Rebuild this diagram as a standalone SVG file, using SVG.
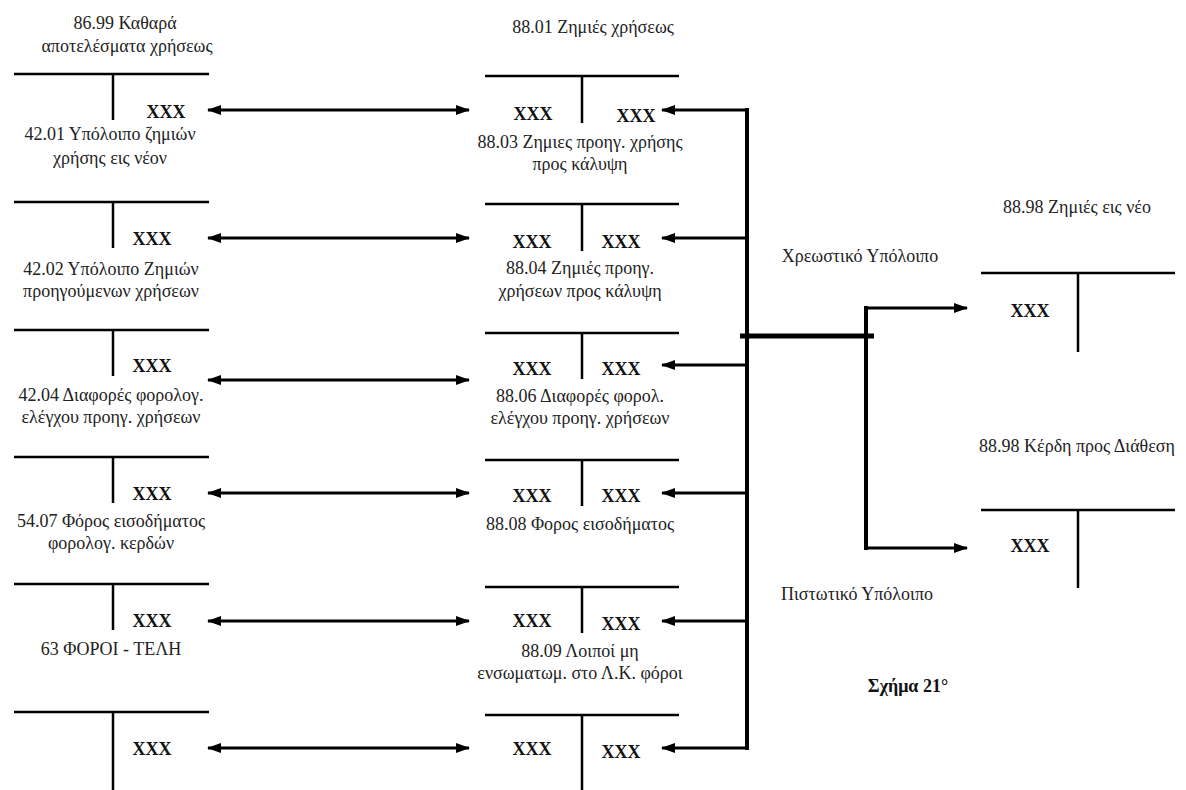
<svg xmlns="http://www.w3.org/2000/svg" width="1186" height="790" viewBox="0 0 1186 790">
<defs>
<marker id="ah" viewBox="0 0 14 10" refX="13" refY="5" markerWidth="14" markerHeight="10" markerUnits="userSpaceOnUse" orient="auto-start-reverse">
<path d="M0,0 L14,5 L0,10 z" fill="#000"/>
</marker>
<style>
.t{stroke:#000;stroke-width:2.5;fill:none}
.lb{font-size:18px;fill:#222;text-anchor:middle}
.x{font-size:18px;font-weight:bold;fill:#111;text-anchor:middle}
.a{stroke:#000;stroke-width:3;fill:none}
.tr{stroke:#000;stroke-width:4;fill:none}
.ti{font-size:18px;font-weight:bold;fill:#111;text-anchor:middle}
</style>
</defs>
<rect width="1186" height="790" fill="#fff"/>
<g font-family="'Liberation Serif', Tinos, 'Noto Serif', 'DejaVu Serif', FreeSerif, serif">
<g id="acc-8699">
<text class="lb" x="125" y="29">86.99 Καθαρά</text>
<text class="lb" x="127" y="52">αποτελέσματα χρήσεως</text>
<path class="t" d="M14,74 H209 M113,74 V120"/>
<text class="x" x="166" y="118">XXX</text>
</g>
<g id="acc-4201">
<text class="lb" x="110" y="140">42.01 Υπόλοιπο ζημιών</text>
<text class="lb" x="110" y="164">χρήσης εις νέον</text>
<path class="t" d="M14,202 H209 M113,202 V248"/>
<text class="x" x="152" y="245">XXX</text>
</g>
<g id="acc-4202">
<text class="lb" x="111" y="275">42.02 Υπόλοιπο Ζημιών</text>
<text class="lb" x="111" y="297">προηγούμενων χρήσεων</text>
<path class="t" d="M14,330 H209 M113,330 V376"/>
<text class="x" x="152" y="372">XXX</text>
</g>
<g id="acc-4204">
<text class="lb" x="111" y="401">42.04 Διαφορές φορολογ.</text>
<text class="lb" x="111" y="423">ελέγχου προηγ. χρήσεων</text>
<path class="t" d="M14,457 H209 M113,457 V503"/>
<text class="x" x="152" y="500">XXX</text>
</g>
<g id="acc-5407">
<text class="lb" x="111" y="527">54.07 Φόρος εισοδήματος</text>
<text class="lb" x="111" y="549">φορολογ. κερδών</text>
<path class="t" d="M14,584 H209 M113,584 V630"/>
<text class="x" x="152" y="627">XXX</text>
</g>
<g id="acc-63">
<text class="lb" x="111" y="655">63 ΦΟΡΟΙ - ΤΕΛΗ</text>
<path class="t" d="M14,712 H209 M113,712 V790"/>
<text class="x" x="152" y="755">XXX</text>
</g>

<g id="acc-8801">
<text class="lb" x="593" y="33">88.01 Ζημιές χρήσεως</text>
<path class="t" d="M485,76 H679 M582,76 V123"/>
<text class="x" x="533" y="120">XXX</text>
<text class="x" x="636" y="122">XXX</text>
</g>
<g id="acc-8803">
<text class="lb" x="580" y="148">88.03 Ζημιες προηγ. χρήσης</text>
<text class="lb" x="580" y="170">προς κάλυψη</text>
<path class="t" d="M485,204 H679 M582,204 V251"/>
<text class="x" x="532" y="248">XXX</text>
<text class="x" x="621" y="248">XXX</text>
</g>
<g id="acc-8804">
<text class="lb" x="580" y="274">88.04 Ζημιές προηγ.</text>
<text class="lb" x="580" y="297">χρήσεων προς κάλυψη</text>
<path class="t" d="M485,333 H679 M582,333 V379"/>
<text class="x" x="532" y="375">XXX</text>
<text class="x" x="621" y="375">XXX</text>
</g>
<g id="acc-8806">
<text class="lb" x="580" y="402">88.06 Διαφορές φορολ.</text>
<text class="lb" x="580" y="424">ελέγχου προηγ. χρήσεων</text>
<path class="t" d="M485,460 H679 M582,460 V506"/>
<text class="x" x="532" y="502">XXX</text>
<text class="x" x="621" y="502">XXX</text>
</g>
<g id="acc-8808">
<text class="lb" x="580" y="530">88.08 Φορος εισοδήματος</text>
<path class="t" d="M485,587 H679 M582,587 V633"/>
<text class="x" x="532" y="627">XXX</text>
<text class="x" x="621" y="630">XXX</text>
</g>
<g id="acc-8809">
<text class="lb" x="580" y="657">88.09 Λοιποί μη</text>
<text class="lb" x="580" y="679">ενσωματωμ. στο Λ.Κ. φόροι</text>
<path class="t" d="M485,715 H679 M582,715 V790"/>
<text class="x" x="532" y="755">XXX</text>
<text class="x" x="621" y="758">XXX</text>
</g>

<g id="acc-8898-loss">
<text class="lb" x="1077" y="213">88.98 Ζημιές εις νέο</text>
<path class="t" d="M981,273 H1175 M1078,273 V352"/>
<text class="x" x="1030" y="317">XXX</text>
</g>
<g id="acc-8898-profit">
<text class="lb" x="1077" y="452">88.98 Κέρδη προς Διάθεση</text>
<path class="t" d="M981,510 H1175 M1078,510 V588"/>
<text class="x" x="1030" y="552">XXX</text>
</g>

<g id="labels">
<text class="lb" x="860" y="262">Χρεωστικό Υπόλοιπο</text>
<text class="lb" x="857" y="600">Πιστωτικό Υπόλοιπο</text>
<text class="ti" x="908" y="692">Σχήμα 21°</text>
</g>
</g>

<g id="connectors">
<line class="a" x1="208" y1="110" x2="469" y2="110" marker-start="url(#ah)" marker-end="url(#ah)"/>
<line class="a" x1="208" y1="238" x2="469" y2="238" marker-start="url(#ah)" marker-end="url(#ah)"/>
<line class="a" x1="208" y1="380" x2="469" y2="380" marker-start="url(#ah)" marker-end="url(#ah)"/>
<line class="a" x1="208" y1="493" x2="469" y2="493" marker-start="url(#ah)" marker-end="url(#ah)"/>
<line class="a" x1="208" y1="621" x2="469" y2="621" marker-start="url(#ah)" marker-end="url(#ah)"/>
<line class="a" x1="208" y1="748" x2="469" y2="748" marker-start="url(#ah)" marker-end="url(#ah)"/>

<path class="tr" d="M747,108 V750"/>
<line class="a" x1="747" y1="110" x2="662" y2="110" marker-end="url(#ah)"/>
<line class="a" x1="747" y1="238" x2="662" y2="238" marker-end="url(#ah)"/>
<line class="a" x1="747" y1="365" x2="662" y2="365" marker-end="url(#ah)"/>
<line class="a" x1="747" y1="493" x2="662" y2="493" marker-end="url(#ah)"/>
<line class="a" x1="747" y1="621" x2="662" y2="621" marker-end="url(#ah)"/>
<line class="a" x1="747" y1="748" x2="662" y2="748" marker-end="url(#ah)"/>

<line x1="740" y1="336" x2="874" y2="336" stroke="#000" stroke-width="5"/>
<path class="tr" d="M866,306 V550"/>
<line class="a" x1="866" y1="308" x2="967" y2="308" marker-end="url(#ah)"/>
<line class="a" x1="866" y1="548" x2="967" y2="548" marker-end="url(#ah)"/>
</g>
</svg>
